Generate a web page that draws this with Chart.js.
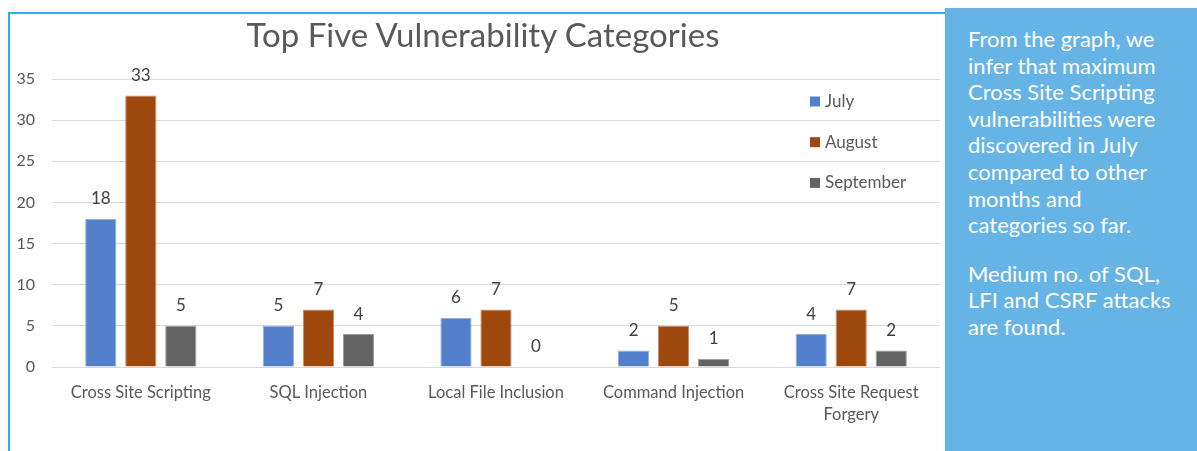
<!DOCTYPE html>
<html>
<head>
<meta charset="utf-8">
<script src="https://cdn.jsdelivr.net/npm/chart.js@4/dist/chart.umd.min.js"></script>
<style>
  html, body { margin: 0; padding: 0; background: #ffffff; }
  body { width: 1197px; height: 451px; position: relative; overflow: hidden; font-family: Lato, "Open Sans", sans-serif; }
  #frame { position: absolute; left: 8px; top: 12px; width: 945px; height: 460px; border-left: 2px solid #22b1ea; border-top: 2px solid #22b1ea; box-sizing: border-box; }
  #wrap { position: absolute; left: 0; top: 0; width: 945px; height: 451px; }
  #title { position: absolute; left: 0; top: 14px; width: 966px; text-align: center; font-size: 33px; line-height: 40px; color: #595959; white-space: nowrap; }
  #panel { position: absolute; left: 945px; top: 8px; width: 252px; height: 443px; background: #66b4e6; color: #ffffff; box-sizing: border-box; padding: 18px 0 0 23px; font-size: 22px; line-height: 26.6px; }
  #panel p { margin: 0 0 22px 0; white-space: nowrap; }
</style>
</head>
<body>
<div id="frame"></div>
<div id="wrap"><canvas id="c" width="945" height="451"></canvas></div>
<div id="title"></div>
<div id="panel">
  <p>From the graph, we<br>infer that maximum<br>Cross Site Scripting<br>vulnerabilities were<br>discovered in July<br>compared to other<br>months and<br>categories so far.</p>
  <p>Medium no. of SQL,<br>LFI and CSRF attacks<br>are found.</p>
</div>
<script>
const categories = ["Cross Site Scripting", "SQL Injection", "Local File Inclusion", "Command Injection", ["Cross Site Request", "Forgery"]];
const julyValues = [18, 5, 6, 2, 4];
const augustValues = [33, 7, 7, 5, 7];
const septemberValues = [5, 4, 0, 1, 2];
const seriesNames = ["July", "August", "September"];
const yTicks = [0, 5, 10, 15, 20, 25, 30, 35];
const titleText = "Top Five Vulnerability Categories";

document.getElementById("title").textContent = titleText;

const FONT = "Lato";
const colors = ["#5480cb", "#9e480e", "#636363"];
const borders = ["#8faedf", "#c98a62", "#9a9a9a"];

const valueLabels = {
  id: "valueLabels",
  afterDatasetsDraw(chart) {
    const ctx = chart.ctx;
    ctx.save();
    ctx.fillStyle = "#404040";
    ctx.font = "17px " + FONT;
    ctx.textAlign = "center";
    ctx.textBaseline = "middle";
    chart.data.datasets.forEach((ds, i) => {
      const meta = chart.getDatasetMeta(i);
      meta.data.forEach((el, j) => {
        ctx.fillText(String(ds.data[j]), el.x, el.y - 20);
      });
    });
    ctx.restore();
  }
};

const insideLegend = {
  id: "insideLegend",
  afterDraw(chart) {
    const ctx = chart.ctx;
    ctx.save();
    ctx.font = "17px " + FONT;
    ctx.textBaseline = "middle";
    ctx.textAlign = "left";
    chart.data.datasets.forEach((ds, i) => {
      const y = 101.5 + i * 40.7;
      ctx.fillStyle = ds.backgroundColor;
      ctx.fillRect(810, y - 5, 10, 10);
      ctx.fillStyle = "#595959";
      ctx.fillText(ds.label, 825, y);
    });
    ctx.restore();
  }
};

new Chart(document.getElementById("c"), {
  type: "bar",
  data: {
    labels: categories,
    datasets: [julyValues, augustValues, septemberValues].map((d, i) => ({
      label: seriesNames[i],
      data: d,
      backgroundColor: colors[i],
      borderColor: borders[i],
      borderWidth: 1,
      barPercentage: 0.78,
      categoryPercentage: 0.676
    }))
  },
  options: {
    responsive: false,
    animation: false,
    layout: { padding: { left: 0, right: 5, top: 79, bottom: 0 } },
    plugins: {
      legend: { display: false },
      tooltip: { enabled: false },
      title: { display: false }
    },
    scales: {
      x: {
        grid: { display: false },
        border: { display: false },
        ticks: {
          color: "#595959",
          font: { family: FONT, size: 16.5, lineHeight: 1.33 },
          padding: 7,
          maxRotation: 0,
          autoSkip: false
        },
        afterFit(s) { s.height = 84; }
      },
      y: {
        min: 0,
        max: 35,
        grid: { color: "#d9d9d9", drawTicks: false, lineWidth: 1 },
        border: { display: false },
        afterBuildTicks(s) { s.ticks = yTicks.map(v => ({ value: v })); },
        ticks: {
          color: "#595959",
          font: { family: FONT, size: 16 },
          padding: 17
        },
        afterFit(s) { s.width = 52; }
      }
    }
  },
  plugins: [valueLabels, insideLegend]
});
</script>
</body>
</html>
